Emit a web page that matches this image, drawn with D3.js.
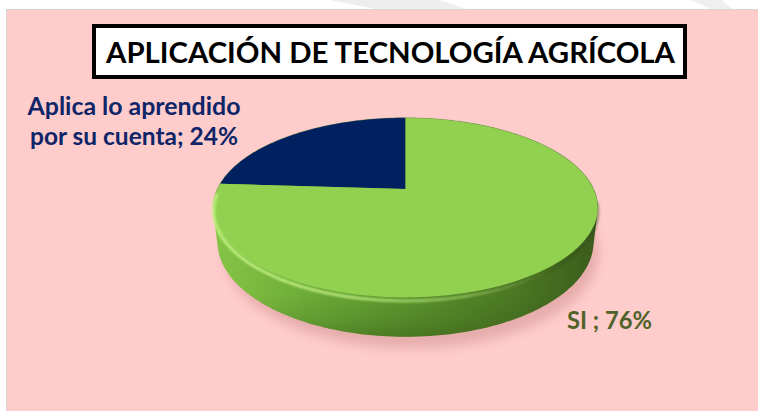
<!DOCTYPE html>
<html>
<head>
<meta charset="utf-8">
<script src="https://cdn.jsdelivr.net/npm/d3@7"></script>
<style>
  html, body { margin: 0; padding: 0; background: #ffffff; }
  svg { display: block; }
</style>
</head>
<body>
<svg id="chart" width="758" height="411"></svg>
<script>
// ---- data ----
const title = "APLICACIÓN DE TECNOLOGÍA AGRÍCOLA";
const categories = ["Aplica lo aprendido por su cuenta", "SI"];
const values = [24, 76];
const sliceColors = ["#002060", "#92D050"];
const labelLines = [["Aplica lo aprendido", "por su cuenta; 24%"], ["SI ; 76%"]];
const labelColors = ["#0e2567", "#4F6228"];

const W = 758, H = 411;
const svg = d3.select("#chart");
const defs = svg.append("defs");

// ---- background ----
svg.append("rect").attr("x", 0).attr("y", 0).attr("width", W).attr("height", H).attr("fill", "#ffffff");
svg.append("path").attr("d", "M330,0 Q360,6 380,10 L470,10 Q450,4 440,0 Z").attr("fill", "#eeeeee");
svg.append("path").attr("d", "M690,0 Q705,5 712,10 L735,10 Q725,4 722,0 Z").attr("fill", "#efefef");
svg.append("rect").attr("x", 6.5).attr("y", 9.5).attr("width", W).attr("height", H)
  .attr("fill", "#ffcccc").attr("stroke", "#d6d6d6").attr("stroke-width", 1);

// ---- perspective model of the pie disc ----
const cx = 405.5, cy0 = 189;
const k = 810, s = 0.457, c = Math.sqrt(1 - s * s), D = 4.84 * c, h = 0.206;
function proj(a, Y) {
  const X = Math.sin(a), Z = Math.cos(a);
  const d = D + Z * c - Y * s;
  return [cx + k * X / d, cy0 - k * (Z * s + Y * c) / d];
}
const N = 240;
const ring = (Y, a0, a1, n) => d3.range(n + 1).map(i => proj(a0 + (a1 - a0) * i / n, Y));

const total = d3.sum(values);
const start = -2 * Math.PI * values[0] / total;
const pie = d3.pie().sort(null).value(d => d).startAngle(start).endAngle(start + 2 * Math.PI);
const arcs = pie(values);

const line = d3.line();

// shadow
const fShadow = defs.append("filter").attr("id", "shadow").attr("x", "-20%").attr("y", "-20%").attr("width", "140%").attr("height", "160%");
fShadow.append("feGaussianBlur").attr("stdDeviation", 6);
const shadowPts = ring(-h - 0.04, 0, 2 * Math.PI, N).map(p => [p[0] + 6, p[1] + 4]);
svg.append("path").attr("d", line(shadowPts) + "Z").attr("fill", "#c98585").attr("opacity", 0.45).attr("filter", "url(#shadow)");

// side gradient
const gSide = defs.append("linearGradient").attr("id", "side").attr("x1", 0).attr("x2", 1).attr("y1", 0).attr("y2", 0);
[["0%", "#86c447"], ["25%", "#6cab37"], ["55%", "#5a902c"], ["80%", "#4a7623"], ["100%", "#3a5c1b"]]
  .forEach(([o, col]) => gSide.append("stop").attr("offset", o).attr("stop-color", col));
const gSideV = defs.append("linearGradient").attr("id", "sideV").attr("x1", 0).attr("x2", 0).attr("y1", 0).attr("y2", 1);
[["0%", 0], ["80%", 0], ["92%", 0.12], ["100%", 0.3]]
  .forEach(([o, op]) => gSideV.append("stop").attr("offset", o).attr("stop-color", "#1d3308").attr("stop-opacity", op));

const hull = d3.polygonHull(ring(0, 0, 2 * Math.PI, N).concat(ring(-h, 0, 2 * Math.PI, N)));
svg.append("path").attr("d", line(hull) + "Z").attr("fill", "url(#side)");
svg.append("path").attr("d", line(hull) + "Z").attr("fill", "url(#sideV)");

// darker transition just under the right rim (drawn before the top face)
const fBlur = defs.append("filter").attr("id", "blur1").attr("x", "-10%").attr("y", "-50%").attr("width", "120%").attr("height", "200%");
fBlur.append("feGaussianBlur").attr("stdDeviation", 1.1);
const gDk = defs.append("linearGradient").attr("id", "dk").attr("gradientUnits", "userSpaceOnUse")
  .attr("x1", 420).attr("x2", 600).attr("y1", 0).attr("y2", 0);
[["0%", 0], ["60%", 0.25], ["100%", 0.45]]
  .forEach(([o, op]) => gDk.append("stop").attr("offset", o).attr("stop-color", "#2f4a12").attr("stop-opacity", op));
const dkPts = ring(-0.02, Math.PI / 2 + 0.12, Math.PI - 0.1, 80);
svg.append("path").attr("d", line(dkPts)).attr("fill", "none").attr("stroke", "url(#dk)")
  .attr("stroke-width", 4).attr("filter", "url(#blur1)");

// top face slices
const gTop = svg.append("g");
arcs.forEach((a, i) => {
  const pts = [[cx, cy0]].concat(ring(0, a.startAngle, a.endAngle, Math.max(8, Math.round(N * (a.endAngle - a.startAngle) / (2 * Math.PI)))));
  gTop.append("path").attr("d", line(pts) + "Z").attr("fill", sliceColors[i]);
});
// faint outline of the top rim (far side)
svg.append("path").attr("d", line(ring(0, -Math.PI / 2 - 0.2, Math.PI / 2 + 0.2, 120)))
  .attr("fill", "none").attr("stroke", "#5a6a50").attr("stroke-opacity", 0.35).attr("stroke-width", 0.8);

// bevel highlight along the near rim
const gHi = defs.append("linearGradient").attr("id", "hi").attr("gradientUnits", "userSpaceOnUse")
  .attr("x1", 212).attr("x2", 600).attr("y1", 0).attr("y2", 0);
[["0%", 0.95], ["35%", 0.8], ["65%", 0.45], ["90%", 0.0], ["100%", 0]]
  .forEach(([o, op]) => gHi.append("stop").attr("offset", o).attr("stop-color", "#c4f285").attr("stop-opacity", op));
const hiPts = ring(-0.018, Math.PI / 2 + 0.15, 3 * Math.PI / 2 - 0.02, 120);
svg.append("path").attr("d", line(hiPts)).attr("fill", "none").attr("stroke", "url(#hi)")
  .attr("stroke-width", 3).attr("filter", "url(#blur1)");

// ---- title ----
svg.append("rect").attr("x", 94).attr("y", 26).attr("width", 591).attr("height", 51)
  .attr("fill", "#ffffff").attr("stroke", "#000000").attr("stroke-width", 4);
svg.append("text").attr("x", 390.5).attr("y", 63).attr("text-anchor", "middle")
  .attr("font-family", "Lato, 'Open Sans', sans-serif").attr("font-weight", "bold").attr("font-size", 28.5)
  .attr("textLength", 569).attr("lengthAdjust", "spacingAndGlyphs")
  .attr("fill", "#000000").text(title);

// ---- data labels ----
const labelPos = [
  { x: 134, y: [115, 145], w: [213, 208] },
  { x: 609.5, y: [329], w: [85] }
];
labelLines.forEach((lines, i) => {
  lines.forEach((t, j) => {
    svg.append("text").attr("x", labelPos[i].x).attr("y", labelPos[i].y[j]).attr("text-anchor", "middle")
      .attr("font-family", "Lato, 'Open Sans', sans-serif").attr("font-weight", "bold").attr("font-size", 24)
      .attr("textLength", labelPos[i].w[j]).attr("lengthAdjust", "spacingAndGlyphs")
      .attr("fill", labelColors[i]).text(t);
  });
});
</script>
</body>
</html>
